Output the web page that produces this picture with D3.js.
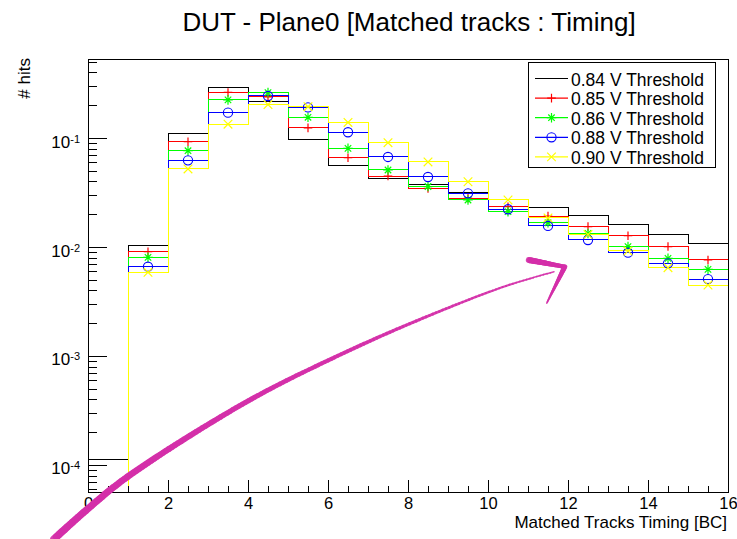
<!DOCTYPE html>
<html>
<head>
<meta charset="utf-8">
<script src="https://cdnjs.cloudflare.com/ajax/libs/d3/7.8.5/d3.min.js"></script>
<style>
  html, body { margin: 0; padding: 0; background: #fff; }
  svg { display: block; font-family: "Liberation Sans", Arial, Helvetica, sans-serif; }
</style>
</head>
<body>
<svg id="chart" width="737" height="539"></svg>
<script>
// ---------------- data ----------------
const binEdges = [0,1,2,3,4,5,6,7,8,9,10,11,12,13,14,15,16];
const seriesNames = ["0.84 V Threshold","0.85 V Threshold","0.86 V Threshold","0.88 V Threshold","0.90 V Threshold"];
const seriesColors = ["#000000","#ff0000","#00ff00","#0000ff","#ffff00"];
const seriesMarkers = ["none","plus","star","circle","cross"];
const v084 = [1.13e-4, 0.0104, 0.109, 0.289, 0.217, 0.0973, 0.0557, 0.0425, 0.0376, 0.0315, 0.0274, 0.0230, 0.0194, 0.0162, 0.0131, 0.0107];
const v085 = [0, 0.00906, 0.0925, 0.262, 0.238, 0.124, 0.0659, 0.0448, 0.0345, 0.0280, 0.0234, 0.0192, 0.0154, 0.0127, 0.0101, 0.0076];
const v086 = [0, 0.00804, 0.0765, 0.224, 0.261, 0.155, 0.0804, 0.0509, 0.0359, 0.0270, 0.0211, 0.0167, 0.0133, 0.0101, 0.00787, 0.00624];
const v088 = [0, 0.0066, 0.0624, 0.171, 0.243, 0.191, 0.113, 0.0670, 0.0439, 0.0311, 0.0222, 0.0156, 0.0116, 0.00887, 0.00708, 0.00508];
const v090 = [0, 0.00586, 0.052, 0.134, 0.203, 0.194, 0.139, 0.0906, 0.0603, 0.0397, 0.0270, 0.0185, 0.0130, 0.0092, 0.00646, 0.00448];
const xMajorTicks = [0,2,4,6,8,10,12,14,16];
const yMajorTicks = [1e-4, 1e-3, 1e-2, 1e-1];
const yTickExponents = ["-4","-3","-2","-1"];
// hand-drawn annotation arrow (data coordinates)
const arrowX = [-0.85, -0.04, 0.99, 3.97, 6.2, 8.17, 10.4, 11.65];
const arrowY = [2.09e-5, 3.86e-5, 7.8e-5, 3.81e-4, 9.86e-4, 2.07e-3, 4.33e-3, 5.93e-3];
const arrowHeadX = [11.02, 11.92, 11.47];
const arrowHeadY = [7.6e-3, 6.59e-3, 3.06e-3];

const titleText = "DUT - Plane0 [Matched tracks : Timing]";
const xTitle = "Matched Tracks Timing [BC]";
const yTitle = "# hits";

// ---------------- layout ----------------
const svg = d3.select("#chart");
const L = 88, R = 728, T = 59, B = 492;
const x = d3.scaleLinear().domain([0,16]).range([L,R]);
const y = d3.scaleLog().domain([5.65e-5, 0.531]).range([B,T]);
const font = '"Liberation Sans", Arial, Helvetica, sans-serif';

svg.append("rect").attr("width",737).attr("height",539).attr("fill","#fff");

// title
svg.append("text").attr("x",409).attr("y",31).attr("text-anchor","middle")
  .attr("font-size",26).attr("fill","#000").text(titleText);

// histograms
const allSeries = [v084, v085, v086, v088, v090];
const clipId = "plotclip";
svg.append("clipPath").attr("id",clipId).append("rect")
  .attr("x",L).attr("y",T).attr("width",R-L).attr("height",B-T);
const gPlot = svg.append("g").attr("clip-path",`url(#${clipId})`);
const line = d3.line();
const yOf = v => v > 0 ? y(v) : y(y.domain()[0]);

function markerPath(kind){
  const s = 4.3;
  if (kind === "plus") return `M${-s},0H${s}M0,${-s}V${s}`;
  if (kind === "cross") return `M${-s},${-s}L${s},${s}M${-s},${s}L${s},${-s}`;
  if (kind === "star") { const d = s*0.75; return `M${-s-0.5},0H${s+0.5}M0,${-s-0.5}V${s+0.5}M${-d},${-d}L${d},${d}M${-d},${d}L${d},${-d}`; }
  return null;
}
function drawMarker(g, kind, cx, cy, color){
  if (kind === "none") return;
  if (kind === "circle") {
    g.append("circle").attr("cx",cx).attr("cy",cy).attr("r",4.6)
      .attr("fill","none").attr("stroke",color).attr("stroke-width",1.1);
  } else {
    g.append("path").attr("d",markerPath(kind)).attr("transform",`translate(${cx},${cy})`)
      .attr("fill","none").attr("stroke",color).attr("stroke-width",1.2);
  }
}

allSeries.forEach((vals, si) => {
  const pts = [];
  vals.forEach((v,i) => {
    pts.push([x(binEdges[i]), yOf(v)]);
    pts.push([x(binEdges[i+1]), yOf(v)]);
  });
  gPlot.append("path").attr("d", line(pts)).attr("fill","none")
    .attr("stroke", seriesColors[si]).attr("stroke-width", 1)
    .attr("shape-rendering","crispEdges");
});
allSeries.forEach((vals, si) => {
  vals.forEach((v,i) => {
    if (v > 0) drawMarker(gPlot, seriesMarkers[si], x((binEdges[i]+binEdges[i+1])/2), y(v), seriesColors[si]);
  });
});

// axes
const gx = svg.append("g").attr("transform",`translate(0,${B})`);
gx.call(d3.axisBottom(x).tickValues(d3.range(0,16.01,0.5)).tickSize(-6).tickFormat(""));
gx.call(g => g.selectAll(".domain").remove());
const gx2 = svg.append("g").attr("transform",`translate(0,${B})`);
gx2.call(d3.axisBottom(x).tickValues(xMajorTicks).tickSize(-12).tickPadding(5).tickFormat(d3.format("d")));
gx2.selectAll(".domain").remove();
gx2.selectAll("text").attr("font-size",16.5).attr("font-family",font).attr("fill","#000");

const yMinor = [];
[-5,-4,-3,-2,-1].forEach(e => { for (let k=2;k<=9;k++){ const v = k*Math.pow(10,e); if (v>=y.domain()[0] && v<=y.domain()[1]) yMinor.push(v);} });
const gy = svg.append("g").attr("transform",`translate(${L},0)`);
gy.call(d3.axisLeft(y).tickValues(yMinor).tickSize(-9).tickFormat(""));
gy.selectAll(".domain").remove();
const gy2 = svg.append("g").attr("transform",`translate(${L},0)`);
gy2.call(d3.axisLeft(y).tickValues(yMajorTicks).tickSize(-19).tickFormat(""));
gy2.selectAll(".domain").remove();
gy2.selectAll(".tick").each(function(d,i){
  const t = d3.select(this).append("text").attr("x",-8).attr("y",9)
    .attr("text-anchor","end").attr("fill","#000").attr("font-family",font);
  t.append("tspan").attr("font-size",17).text("10");
  t.append("tspan").attr("font-size",11).attr("dy",-5).text(yTickExponents[i]);
});
svg.selectAll(".tick line").attr("stroke","#000").attr("shape-rendering","crispEdges");

// frame
svg.append("rect").attr("x",L).attr("y",T).attr("width",R-L).attr("height",B-T)
  .attr("fill","none").attr("stroke","#000").attr("stroke-width",1).attr("shape-rendering","crispEdges");

// axis titles
svg.append("text").attr("x",727).attr("y",528).attr("text-anchor","end")
  .attr("font-size",17).attr("fill","#000").text(xTitle);
svg.append("text").attr("transform","translate(30,58) rotate(-90)").attr("text-anchor","end")
  .attr("font-size",17).attr("fill","#000").text(yTitle);

// legend
const lg = svg.append("g");
lg.append("rect").attr("x",528).attr("y",62).attr("width",187).attr("height",105)
  .attr("fill","#fff").attr("stroke","#000").attr("stroke-width",1).attr("shape-rendering","crispEdges");
seriesNames.forEach((name,i) => {
  const ry = 78.5 + 19.6*i;
  lg.append("line").attr("x1",535).attr("x2",568).attr("y1",ry).attr("y2",ry)
    .attr("stroke",seriesColors[i]).attr("stroke-width",1.2);
  drawMarker(lg, seriesMarkers[i], 551.5, ry, seriesColors[i]);
  lg.append("text").attr("x",571).attr("y",ry+7).attr("font-size",17.5).attr("fill","#000").text(name);
});

// hand-drawn arrow annotation
const arrowColor = "#d42fa8";
const ga = svg.append("g");
const guide = ga.append("path")
  .attr("d", d3.line().curve(d3.curveCatmullRom)(arrowX.map((d,i)=>[x(d), y(arrowY[i])])))
  .attr("fill","none").attr("stroke","none");
const node = guide.node();
const len = node.getTotalLength();
const N = 160;
for (let k=0;k<N;k++){
  const p0 = node.getPointAtLength(len*k/N), p1 = node.getPointAtLength(len*(k+1)/N);
  const t = k/N;
  ga.append("line").attr("x1",p0.x).attr("y1",p0.y).attr("x2",p1.x).attr("y2",p1.y)
    .attr("stroke",arrowColor).attr("stroke-linecap","round")
    .attr("stroke-width", 7.5 - 6*t).attr("stroke-opacity",0.9);
}
function taper(xa, ya, xb, yb, w0, w1){
  const n = 30;
  for (let k=0;k<n;k++){
    const t0=k/n, t1=(k+1)/n;
    ga.append("line")
      .attr("x1", xa+(xb-xa)*t0).attr("y1", ya+(yb-ya)*t0)
      .attr("x2", xa+(xb-xa)*t1).attr("y2", ya+(yb-ya)*t1)
      .attr("stroke",arrowColor).attr("stroke-linecap","round")
      .attr("stroke-width", w0+(w1-w0)*t0).attr("stroke-opacity",0.9);
  }
}
const hx = arrowHeadX.map(d=>x(d)), hy = arrowHeadY.map(d=>y(d));
taper(hx[0],hy[0],hx[1],hy[1],6,4);
taper(hx[1],hy[1],hx[2],hy[2],5,1.5);
</script>
</body>
</html>
